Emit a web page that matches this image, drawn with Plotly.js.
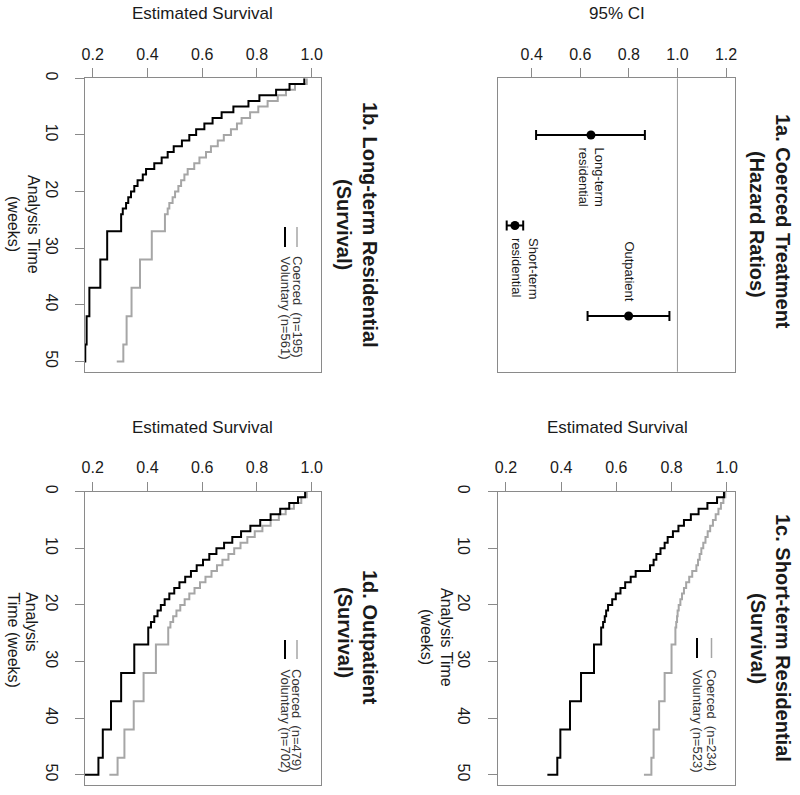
<!DOCTYPE html>
<html><head><meta charset="utf-8">
<script src="https://cdn.plot.ly/plotly-3.0.1.min.js"></script>
<style>html,body{margin:0;padding:0;background:#fff;} #chart{width:800px;height:795px;}</style>
</head><body><div id="chart"></div>
<script>
// ---------- DATA ----------
const weeks = [0,1,2,3,4,5,6,7,8,9,10,11,12,13,14,15,16,17,18,19,20,21,22,23,24,27,32,37,42,47,50];

// 1b. Long-term residential
const ltrCoerced   = [0.982,0.939,0.906,0.876,0.839,0.805,0.775,0.744,0.727,0.705,0.679,0.657,0.632,0.614,0.590,0.571,0.547,0.535,0.523,0.513,0.501,0.492,0.480,0.474,0.464,0.416,0.373,0.342,0.324,0.312,0.288];
const ltrVoluntary = [0.973,0.919,0.870,0.809,0.769,0.714,0.671,0.638,0.608,0.578,0.553,0.526,0.496,0.474,0.452,0.425,0.395,0.383,0.364,0.352,0.340,0.330,0.322,0.310,0.304,0.253,0.228,0.188,0.178,0.173,0.165];

// 1c. Short-term residential
const strCoerced   = [0.995,0.988,0.979,0.970,0.960,0.950,0.940,0.931,0.923,0.915,0.908,0.902,0.896,0.890,0.875,0.864,0.853,0.845,0.838,0.832,0.826,0.822,0.820,0.817,0.814,0.800,0.775,0.755,0.735,0.727,0.700];
const strVoluntary = [0.990,0.965,0.930,0.898,0.870,0.845,0.825,0.805,0.786,0.775,0.760,0.745,0.735,0.722,0.670,0.652,0.632,0.615,0.598,0.585,0.570,0.563,0.558,0.552,0.545,0.519,0.472,0.432,0.397,0.386,0.350];

// 1d. Outpatient
const outCoerced   = [0.982,0.962,0.935,0.905,0.880,0.850,0.820,0.792,0.765,0.740,0.717,0.696,0.674,0.654,0.634,0.612,0.592,0.572,0.553,0.536,0.520,0.506,0.494,0.484,0.476,0.431,0.386,0.350,0.316,0.291,0.261];
const outVoluntary = [0.976,0.950,0.918,0.885,0.850,0.812,0.776,0.742,0.710,0.680,0.652,0.626,0.603,0.580,0.559,0.538,0.517,0.498,0.480,0.463,0.449,0.437,0.425,0.413,0.403,0.352,0.304,0.267,0.237,0.221,0.170];

// 1a. Hazard ratios
const hrCategories = ["Long-term residential","Short-term residential","Outpatient"];
const hrLabels     = ["Long-term<br>residential","Short-term<br>residential","Outpatient"];
const hrEstimate   = [0.644,0.331,0.799];
const hrLower      = [0.418,0.297,0.630];
const hrUpper      = [0.866,0.365,0.967];

const survivalTicks = [0.2,0.4,0.6,0.8,1.0];
const survivalTickText = ["0.2","0.4","0.6","0.8","1.0"];
const hrTicks = [0.4,0.6,0.8,1.0,1.2];
const hrTickText = ["0.4","0.6","0.8","1.0","1.2"];
const weekTicks = [0,10,20,30,40,50];
const weekTickText = ["0","10","20","30","40","50"];

const legendLtr = ["Coerced\u00a0\u00a0(n=195)","Voluntary (n=561)"];
const legendStr = ["Coerced\u00a0\u00a0(n=234)","Voluntary (n=523)"];
const legendOut = ["Coerced\u00a0\u00a0(n=479)","Voluntary (n=702)"];

// ---------- LAYOUT HELPERS ----------
const W = 800, H = 795;
const FONT = "Liberation Sans, Arial, sans-serif";
const PX = v => v / W;
const PY = v => 1 - v / H;
const GRAY = "#a6a6a6";
const AXC = "#8a8a8a";
const TXT = "#1a1a1a";

const colL = [85, 321], colR = [497.7, 735];
const rowT = [78.3, 371.7], rowB = [491.7, 785];

function survAxis(col, anchor, range, ticks, text) {
  return {
    domain: [PX(col[0]), PX(col[1])], anchor: anchor, side: "top",
    range: range, tickmode: "array", tickvals: ticks, ticktext: text,
    ticks: "outside", ticklen: 9, tickwidth: 1, tickcolor: AXC,
    showline: true, linecolor: AXC, linewidth: 1, mirror: true,
    showgrid: false, zeroline: false, fixedrange: true,
    tickfont: {family: FONT, size: 16, color: TXT}, ticklabelstandoff: 2
  };
}
function timeAxis(row, anchor) {
  return {
    domain: [PY(row[1]), PY(row[0])], anchor: anchor,
    range: [51.8, 0], tickmode: "array", tickvals: weekTicks, ticktext: weekTickText,
    tickangle: 90, ticks: "outside", ticklen: 9, tickwidth: 1, tickcolor: AXC,
    showline: true, linecolor: AXC, linewidth: 1, mirror: true,
    showgrid: false, zeroline: false, fixedrange: true,
    tickfont: {family: FONT, size: 16, color: TXT}, ticklabelstandoff: 10
  };
}

function km(x, y, xa, ya, color, name) {
  return {type: "scatter", mode: "lines", x: x, y: y, xaxis: xa, yaxis: ya, name: name,
          line: {shape: "vh", color: color, width: 2}, hoverinfo: "skip", showlegend: false};
}

const traces = [
  km(ltrCoerced, weeks, "x", "y", GRAY, "Coerced"),
  km(ltrVoluntary, weeks, "x", "y", "#000", "Voluntary"),
  km(outCoerced, weeks, "x3", "y3", GRAY, "Coerced"),
  km(outVoluntary, weeks, "x3", "y3", "#000", "Voluntary"),
  km(strCoerced, weeks, "x4", "y4", GRAY, "Coerced"),
  km(strVoluntary, weeks, "x4", "y4", "#000", "Voluntary"),
  {
    type: "scatter", mode: "markers", x: hrEstimate, y: hrCategories, xaxis: "x2", yaxis: "y2",
    marker: {color: "#000", size: 9},
    error_x: {type: "data", symmetric: false,
              array: hrUpper.map((u, i) => u - hrEstimate[i]),
              arrayminus: hrLower.map((l, i) => hrEstimate[i] - l),
              color: "#000", thickness: 2, width: 5},
    hoverinfo: "skip", showlegend: false
  }
];

// ---------- ANNOTATIONS ----------
const ann = [];
const shapes = [
  {type: "line", xref: "x2", yref: "y2 domain", x0: 1, x1: 1, y0: 0, y1: 1, line: {color: "#9a9a9a", width: 1}}
];
function txt(text, px, py, size, opts) {
  ann.push(Object.assign({
    text: text, xref: "paper", yref: "paper", x: PX(px), y: PY(py),
    xanchor: "center", yanchor: "middle", showarrow: false,
    font: {family: FONT, size: size, color: TXT}
  }, opts || {}));
}
// axis titles (top)
txt("Estimated Survival", 203, 14, 17);
txt("95% CI", 617, 14, 17);
txt("Estimated Survival", 203, 427, 17);
txt("Estimated Survival", 617, 427, 17);
// time axis titles (left, rotated)
txt("Analysis Time", 33, 224, 16, {textangle: 90});
txt("(weeks)", 13, 224, 16, {textangle: 90});
txt("Analysis Time", 447, 637, 16, {textangle: 90});
txt("(weeks)", 427, 637, 16, {textangle: 90});
txt("Analysis", 32, 590, 16, {textangle: 90, yanchor: "top"});
txt("Time (weeks)", 13, 590, 16, {textangle: 90, yanchor: "top"});
// panel titles (right, rotated, bold)
txt("<b>1a. Coerced Treatment</b>", 783, 221, 20, {textangle: 90});
txt("<b>(Hazard Ratios)</b>", 757, 224, 20, {textangle: 90});
txt("<b>1b. Long-term Residential</b>", 370, 225, 20, {textangle: 90});
txt("<b>(Survival)</b>", 344, 224, 20, {textangle: 90});
txt("<b>1c. Short-term Residential</b>", 783, 638, 20, {textangle: 90});
txt("<b>(Survival)</b>", 758, 638, 20, {textangle: 90});
txt("<b>1d. Outpatient</b>", 370, 637, 20, {textangle: 90});
txt("<b>(Survival)</b>", 345, 632, 20, {textangle: 90});
// legends
function legend(labels, grayX, blackX, lineTop, lineBot, textTop) {
  txt(labels[0], grayX, textTop, 13, {textangle: 90, yanchor: "top", font: {family: FONT, size: 13, color: "#333"}});
  txt(labels[1], blackX, textTop, 13, {textangle: 90, yanchor: "top", font: {family: FONT, size: 13, color: "#333"}});
  shapes.push({type: "line", xref: "paper", yref: "paper", x0: PX(grayX), x1: PX(grayX), y0: PY(lineTop), y1: PY(lineBot), line: {color: GRAY, width: 1.5}});
  shapes.push({type: "line", xref: "paper", yref: "paper", x0: PX(blackX), x1: PX(blackX), y0: PY(lineTop), y1: PY(lineBot), line: {color: "#000", width: 2}});
}
legend(legendLtr, 297, 285, 227, 247, 254);
legend(legendOut, 297, 285, 640, 659, 667);
legend(legendStr, 711.5, 697, 638, 658, 667);

// hazard-ratio point labels
const hrShift = [{xs: 0, ys: -11, ya: "top"}, {xs: 10, ys: -11, ya: "top"}, {xs: 1, ys: 13, ya: "bottom"}];
hrLabels.forEach((lab, i) => {
  ann.push({text: lab, xref: "x2", yref: "y2", x: hrEstimate[i], y: hrCategories[i],
            xanchor: "center", yanchor: hrShift[i].ya, xshift: hrShift[i].xs, yshift: hrShift[i].ys,
            textangle: 90, showarrow: false, align: "left",
            font: {family: FONT, size: 13, color: TXT}});
});

const layout = {
  width: W, height: H, margin: {l: 0, r: 0, t: 0, b: 0},
  paper_bgcolor: "#fff", plot_bgcolor: "#fff", showlegend: false,
  font: {family: FONT, color: TXT},
  xaxis: survAxis(colL, "y", [0.172, 1.034], survivalTicks, survivalTickText),
  yaxis: timeAxis(rowT, "x"),
  xaxis2: survAxis(colR, "y2", [0.26, 1.237], hrTicks, hrTickText),
  yaxis2: {domain: [PY(rowT[1]), PY(rowT[0])], anchor: "x2", type: "category",
           categoryarray: hrCategories, categoryorder: "array", range: [2.615, -0.626],
           showticklabels: false, ticks: "", showline: true, linecolor: AXC, mirror: true,
           showgrid: false, zeroline: false, fixedrange: true},
  xaxis3: survAxis(colL, "y3", [0.172, 1.034], survivalTicks, survivalTickText),
  yaxis3: timeAxis(rowB, "x3"),
  xaxis4: survAxis(colR, "y4", [0.170, 1.030], survivalTicks, survivalTickText),
  yaxis4: timeAxis(rowB, "x4"),
  annotations: ann, shapes: shapes
};

Plotly.newPlot("chart", traces, layout, {displayModeBar: false, staticPlot: true});
</script></body></html>
